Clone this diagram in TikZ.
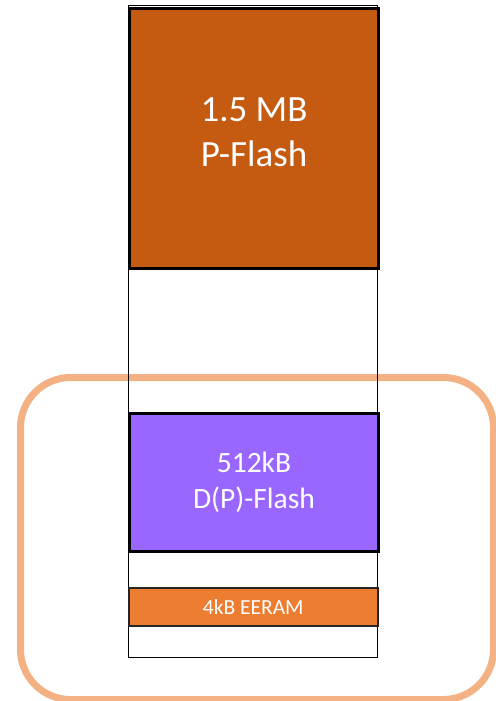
\documentclass[tikz,border=0pt]{standalone}
\usepackage{fontspec}
\setmainfont{Carlito}
\usepackage{tikz}
\usetikzlibrary{positioning}
\usepackage{xcolor}

\definecolor{pflashc}{HTML}{C55A11}
\definecolor{dflashc}{HTML}{9966FF}
\definecolor{eeramc}{HTML}{ED7D31}
\definecolor{regionc}{HTML}{F4B183}

\tikzset{
  memblock/.style={draw=black, line width=3pt, text=white, align=center,
    minimum width=249pt, anchor=north west, inner sep=0pt},
  smallblock/.style={draw=black!85, line width=1.5pt, text=white, align=center,
    minimum width=249pt, anchor=north west, inner sep=0pt},
}

\begin{document}
\begin{tikzpicture}[x=1pt, y=-1pt]
    \useasboundingbox (0,0) rectangle (495,701);

    % region around data flash
    \node (region) [draw=regionc, line width=7pt, rounded corners=50pt,
      minimum width=473pt, minimum height=322pt, anchor=north west] at (17,374) {};

    % memory column
    \node (column) [draw=black, line width=1.2pt, minimum width=249pt,
      minimum height=652pt, anchor=north west] at (128,5) {};

    \node (pflash) [memblock, fill=pflashc, minimum height=260pt,
      font=\fontsize{37}{45}\selectfont] at (128,7) {1.5 MB\\P-Flash\\[-33pt]};
    \node (dpflash) [memblock, fill=dflashc, minimum height=138pt,
      font=\fontsize{29.5}{36}\selectfont] at (128,412) {512kB\\D(P)-Flash};
    \node (eeram) [smallblock, fill=eeramc, minimum height=38pt,
      font=\fontsize{21.5}{24}\selectfont] at (128,587) {4kB EERAM};
\end{tikzpicture}
\end{document}
